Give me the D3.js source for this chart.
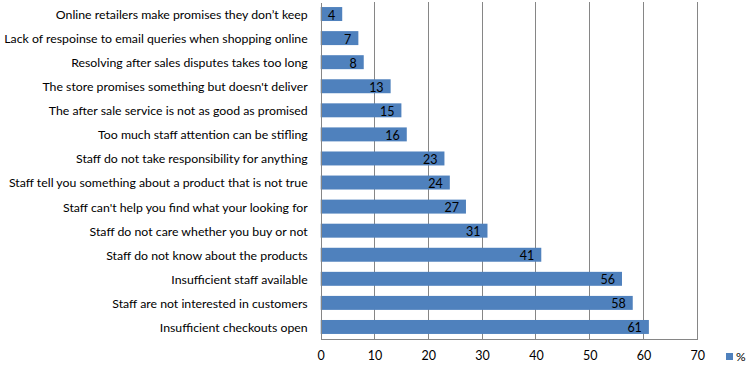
<!DOCTYPE html>
<html><head><meta charset="utf-8">
<script src="https://cdn.jsdelivr.net/npm/d3@7"></script>
<style>body{margin:0;background:#fff}svg{display:block}text{font-family:Lato,"Open Sans",sans-serif;fill:#000}</style>
</head><body><svg id="c" width="748" height="365"></svg>
<script>
const categories = [
 "Online retailers make promises they don’t keep",
 "Lack of respoinse to email queries when shopping online",
 "Resolving after sales disputes takes too long",
 "The store promises something but doesn't deliver",
 "The after sale service is not as good as promised",
 "Too much staff attention can be stifling",
 "Staff do not take responsibility for anything",
 "Staff tell you something about a product that is not true",
 "Staff can't help you find what your looking for",
 "Staff do not care whether you buy or not",
 "Staff do not know about the products",
 "Insufficient staff available",
 "Staff are not interested in customers",
 "Insufficient checkouts open"
];
const values = [4,7,8,13,15,16,23,24,27,31,41,56,58,61];
const ticks = [0,10,20,30,40,50,60,70];
const seriesName = "%";

const svg = d3.select("#c");
const pL = 320.7, pR = 697.3, pT = 2, pB = 339;
const x = d3.scaleLinear().domain([0,70]).range([pL,pR]);
const y = d3.scaleBand().domain(categories).range([pT,pB]).paddingInner(0.42).paddingOuter(0.21);

// gridlines
svg.append("g").selectAll("line").data(ticks.slice(1)).join("line")
 .attr("x1",d=>x(d)).attr("x2",d=>x(d)).attr("y1",pT).attr("y2",pB)
 .attr("stroke","#868686").attr("stroke-width",1).attr("shape-rendering","crispEdges");

// bars
svg.append("g").selectAll("rect").data(values).join("rect")
 .attr("x",x(0)).attr("y",(d,i)=>y(categories[i]))
 .attr("width",d=>x(d)-x(0)).attr("height",y.bandwidth())
 .attr("fill","#4F81BD");

// value labels
svg.append("g").selectAll("text").data(values).join("text")
 .attr("x",d=>x(d)-7).attr("y",(d,i)=>y(categories[i])+y.bandwidth()/2+1)
 .attr("dy","0.36em").attr("text-anchor","end").style("font-size","12.5px").text(d=>d);

// axes
const xa = svg.append("g").attr("transform",`translate(0,${pB})`)
 .call(d3.axisBottom(x).tickValues(ticks).tickSize(0).tickPadding(12));
xa.select(".domain").attr("stroke","#868686").attr("shape-rendering","crispEdges");
xa.selectAll("text").style("font-size","12.5px").style("font-family","Lato,sans-serif").attr("fill","#000");

const ya = svg.append("g").attr("transform",`translate(${pL},0)`)
 .call(d3.axisLeft(y).tickSize(0).tickPadding(13));
ya.select(".domain").attr("stroke","#868686").attr("shape-rendering","crispEdges");
ya.selectAll("text").style("font-size","12.3px").style("font-family","Lato,sans-serif").attr("fill","#000").attr("dy","0.4em");

// legend
const lg = svg.append("g").attr("transform","translate(726,353)");
lg.append("rect").attr("width",7).attr("height",7).attr("fill","#4F81BD");
lg.append("text").attr("x",10).attr("y",3.5).attr("dy","0.36em").style("font-size","12px").text(seriesName);
</script></body></html>
